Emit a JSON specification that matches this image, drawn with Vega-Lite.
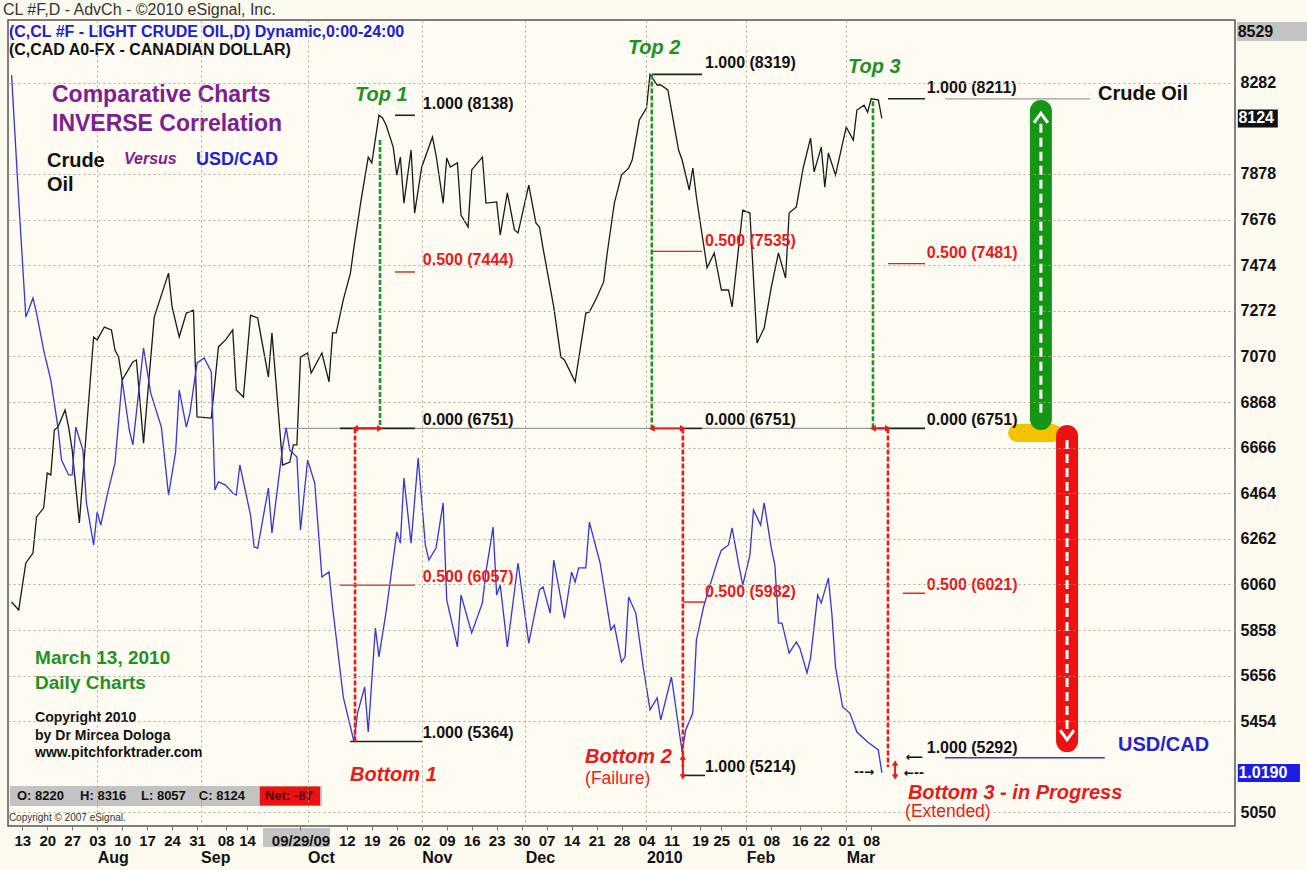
{
"$schema":"https://vega.github.io/schema/vega-lite/v6.json",
"width":1227,"height":806,
"autosize":{"type":"none"},
"padding":{"left":8,"top":20,"right":72,"bottom":44},
"background":"#fcf9ef",
"title":{"text":"CL #F,D - AdvCh - ©2010 eSignal, Inc.","anchor":"start","frame":"group","offset":2,"dx":-5,"font":"Liberation Sans","fontSize":16,"fontWeight":"normal","color":"#333"},
"config":{"view":{"stroke":"#555","strokeWidth":1.5,"fill":"#fdfbf2"},"text":{"font":"Liberation Sans"}},
"resolve":{"axis":{"x":"independent"}},
"layer":[
{"data":{"values":[
 {"a":"2010/06/18 13:00","b":"2010/07/08 05:00","y1":8551,"y2":8467},
 {"a":"2009/09/18 12:00","b":"2009/10/07 07:00","y1":4981,"y2":4897},
 {"a":"2009/07/09 13:00","b":"2009/10/05 00:00","y1":5167,"y2":5079}
 ],"format":{"parse":{"a":"date","b":"date"}}},
 "mark":{"type":"rect","color":"#c3c3c3"},
 "encoding":{"x":{"field":"a","type":"temporal","axis":null},"x2":{"field":"b"},"y":{"field":"y1","type":"quantitative"},"y2":{"field":"y2"}}},
{"data":{"values":[{"a":"2010/06/18 19:00","b":"2010/06/30 00:00","y1":8164,"y2":8084}],"format":{"parse":{"a":"date","b":"date"}}},
 "mark":{"type":"rect","color":"#111"},
 "encoding":{"x":{"field":"a","type":"temporal","axis":null},"x2":{"field":"b"},"y":{"field":"y1","type":"quantitative"},"y2":{"field":"y2"}}},
{"data":{"values":[{"a":"2010/06/18 19:00","b":"2010/07/06 05:00","y1":5265,"y2":5185}],"format":{"parse":{"a":"date","b":"date"}}},
 "mark":{"type":"rect","color":"#1c1ce6"},
 "encoding":{"x":{"field":"a","type":"temporal","axis":null},"x2":{"field":"b"},"y":{"field":"y1","type":"quantitative"},"y2":{"field":"y2"}}},
{"data":{"values":[{"a":"2009/09/17 14:00","b":"2009/10/04 12:00","y1":5165,"y2":5081}],"format":{"parse":{"a":"date","b":"date"}}},
 "mark":{"type":"rect","color":"#ee1111"},
 "encoding":{"x":{"field":"a","type":"temporal","axis":null},"x2":{"field":"b"},"y":{"field":"y1","type":"quantitative"},"y2":{"field":"y2"}}},
{"data":{"values":[
{"date":"2009/07/10","v":5982},{"date":"2009/07/12","v":5947},{"date":"2009/07/14","v":6155},{"date":"2009/07/16","v":6199},{"date":"2009/07/17","v":6359},{"date":"2009/07/19","v":6398},{"date":"2009/07/20","v":6553},{"date":"2009/07/21","v":6545},{"date":"2009/07/22","v":6744},{"date":"2009/07/23","v":6757},{"date":"2009/07/25","v":6833},{"date":"2009/07/26","v":6757},{"date":"2009/07/27","v":6655},{"date":"2009/07/29","v":6332},{"date":"2009/08/02","v":7156},{"date":"2009/08/03","v":7143},{"date":"2009/08/05","v":7200},{"date":"2009/08/07","v":7187},{"date":"2009/08/08","v":7098},{"date":"2009/08/09","v":7067},{"date":"2009/08/10","v":6965},{"date":"2009/08/13","v":7045},{"date":"2009/08/14","v":7054},{"date":"2009/08/16","v":6686},{"date":"2009/08/19","v":7244},{"date":"2009/08/23","v":7439},{"date":"2009/08/24","v":7289},{"date":"2009/08/26","v":7156},{"date":"2009/08/28","v":7262},{"date":"2009/08/30","v":7275},{"date":"2009/08/31","v":6802},{"date":"2009/09/04","v":6797},{"date":"2009/09/06","v":7112},{"date":"2009/09/08","v":7143},{"date":"2009/09/10","v":7187},{"date":"2009/09/11","v":6921},{"date":"2009/09/13","v":6890},{"date":"2009/09/15","v":7253},{"date":"2009/09/17","v":7240},{"date":"2009/09/20","v":6979},{"date":"2009/09/21","v":7174},{"date":"2009/09/24","v":6589},{"date":"2009/09/26","v":6602},{"date":"2009/09/27","v":6678},{"date":"2009/09/28","v":6678},{"date":"2009/09/29","v":7067},{"date":"2009/10/01","v":7085},{"date":"2009/10/02","v":6996},{"date":"2009/10/05","v":7085},{"date":"2009/10/07","v":6957},{"date":"2009/10/08","v":7174},{"date":"2009/10/09","v":7174},{"date":"2009/10/11","v":7320},{"date":"2009/10/13","v":7439},{"date":"2009/10/14","v":7555},{"date":"2009/10/16","v":7763},{"date":"2009/10/18","v":7953},{"date":"2009/10/19","v":7927},{"date":"2009/10/21","v":8138},{"date":"2009/10/22","v":8126},{"date":"2009/10/23","v":8095},{"date":"2009/10/25","v":7997},{"date":"2009/10/26","v":7873},{"date":"2009/10/27","v":7953},{"date":"2009/10/28","v":7749},{"date":"2009/10/30","v":7984},{"date":"2009/10/31","v":7705},{"date":"2009/11/02","v":7909},{"date":"2009/11/05","v":8042},{"date":"2009/11/06","v":7962},{"date":"2009/11/08","v":7749},{"date":"2009/11/09","v":7949},{"date":"2009/11/10","v":7909},{"date":"2009/11/12","v":7927},{"date":"2009/11/13","v":7696},{"date":"2009/11/15","v":7643},{"date":"2009/11/16","v":7896},{"date":"2009/11/19","v":7953},{"date":"2009/11/20","v":7749},{"date":"2009/11/23","v":7754},{"date":"2009/11/24","v":7608},{"date":"2009/11/26","v":7794},{"date":"2009/11/28","v":7630},{"date":"2009/11/29","v":7617},{"date":"2009/12/02","v":7829},{"date":"2009/12/04","v":7661},{"date":"2009/12/05","v":7643},{"date":"2009/12/06","v":7550},{"date":"2009/12/09","v":7289},{"date":"2009/12/11","v":7067},{"date":"2009/12/12","v":7054},{"date":"2009/12/15","v":6957},{"date":"2009/12/18","v":7262},{"date":"2009/12/19","v":7267},{"date":"2009/12/21","v":7329},{"date":"2009/12/23","v":7400},{"date":"2009/12/24","v":7528},{"date":"2009/12/26","v":7749},{"date":"2009/12/28","v":7873},{"date":"2009/12/30","v":7904},{"date":"2009/12/31","v":7940},{"date":"2010/01/02","v":8117},{"date":"2010/01/04","v":8170},{"date":"2010/01/05","v":8319},{"date":"2010/01/07","v":8272},{"date":"2010/01/08","v":8272},{"date":"2010/01/10","v":8250},{"date":"2010/01/13","v":7984},{"date":"2010/01/14","v":7940},{"date":"2010/01/16","v":7807},{"date":"2010/01/17","v":7904},{"date":"2010/01/18","v":7776},{"date":"2010/01/21","v":7462},{"date":"2010/01/23","v":7528},{"date":"2010/01/25","v":7364},{"date":"2010/01/27","v":7364},{"date":"2010/01/28","v":7289},{"date":"2010/01/31","v":7718},{"date":"2010/02/02","v":7705},{"date":"2010/02/04","v":7129},{"date":"2010/02/06","v":7196},{"date":"2010/02/08","v":7377},{"date":"2010/02/10","v":7528},{"date":"2010/02/12","v":7417},{"date":"2010/02/13","v":7705},{"date":"2010/02/15","v":7732},{"date":"2010/02/17","v":7909},{"date":"2010/02/19","v":8037},{"date":"2010/02/20","v":7887},{"date":"2010/02/22","v":7997},{"date":"2010/02/23","v":7820},{"date":"2010/02/24","v":7971},{"date":"2010/02/26","v":7873},{"date":"2010/03/01","v":8086},{"date":"2010/03/03","v":8028},{"date":"2010/03/04","v":8161},{"date":"2010/03/06","v":8183},{"date":"2010/03/07","v":8152},{"date":"2010/03/08","v":8211},{"date":"2010/03/10","v":8206},{"date":"2010/03/11","v":8124}
 ]},
 "mark":{"type":"line","color":"#1a1a1a","strokeWidth":1.3},
 "encoding":{
  "x":{"field":"date","type":"temporal","scale":{"domain":[{"year":2009,"month":7,"date":9},{"year":2010,"month":6,"date":18}],"nice":false},
   "axis":{"orient":"bottom","title":null,"grid":false,"domain":false,"ticks":true,"tickSize":4,"tickColor":"#777","labelPadding":3,"labelOverlap":false,"labelFlush":false,"labelFont":"Liberation Sans","labelFontSize":15,"labelFontWeight":"bold","labelColor":"#111","labelBaseline":"top","zindex":1,
    "values":[{"year":2009,"month":7,"date":13},{"year":2009,"month":7,"date":20},{"year":2009,"month":7,"date":27},{"year":2009,"month":8,"date":3},{"year":2009,"month":8,"date":10},{"year":2009,"month":8,"date":17},{"year":2009,"month":8,"date":24},{"year":2009,"month":8,"date":31},{"year":2009,"month":9,"date":8},{"year":2009,"month":9,"date":14},{"year":2009,"month":9,"date":29},{"year":2009,"month":10,"date":12},{"year":2009,"month":10,"date":19},{"year":2009,"month":10,"date":26},{"year":2009,"month":11,"date":2},{"year":2009,"month":11,"date":9},{"year":2009,"month":11,"date":16},{"year":2009,"month":11,"date":23},{"year":2009,"month":11,"date":30},{"year":2009,"month":12,"date":7},{"year":2009,"month":12,"date":14},{"year":2009,"month":12,"date":21},{"year":2009,"month":12,"date":28},{"year":2010,"month":1,"date":4},{"year":2010,"month":1,"date":11},{"year":2010,"month":1,"date":19},{"year":2010,"month":1,"date":25},{"year":2010,"month":2,"date":1},{"year":2010,"month":2,"date":8},{"year":2010,"month":2,"date":16},{"year":2010,"month":2,"date":22},{"year":2010,"month":3,"date":1},{"year":2010,"month":3,"date":8}],
    "labelExpr":"(month(datum.value)==8 && date(datum.value)==29) ? '09/29/09' : timeFormat(datum.value, '%d')"}},
  "y":{"field":"v","type":"quantitative","scale":{"domain":[4990,8560],"nice":false,"zero":false},
   "axis":{"orient":"right","title":null,"domain":false,"ticks":false,"labelPadding":5,"labelFont":"Liberation Sans","labelFontSize":16,"labelFontWeight":"bold","labelColor":"#111","labelAlign":"left","labelBaseline":"middle","labelOverlap":false,"labelFlush":false,"format":"d","zindex":1,
    "values":[5050,5454,5656,5858,6060,6262,6464,6666,6868,7070,7272,7474,7676,7878,8282],
    "grid":true,"gridColor":"#a8a28a","gridDash":[2,3],"gridWidth":1,"gridOpacity":0.9}}}},
{"data":{"values":[{"date":"2010/06/18 18:00","v":8507,"s":"8529"}]},
 "mark":{"type":"text","align":"left","baseline":"middle","font":"Liberation Sans","fontSize":16,"fontWeight":"bold","color":"#111"},
 "encoding":{"x":{"field":"date","type":"temporal","axis":null},"y":{"field":"v","type":"quantitative"},"text":{"field":"s"}}},
{"data":{"values":[{"date":"2010/06/18 23:00","v":8124,"s":"8124"},{"date":"2010/06/18 23:00","v":5225,"s":"1.0190"}]},
 "mark":{"type":"text","align":"left","baseline":"middle","font":"Liberation Sans","fontSize":16,"fontWeight":"bold","color":"white"},
 "encoding":{"x":{"field":"date","type":"temporal","axis":null},"y":{"field":"v","type":"quantitative"},"text":{"field":"s"}}},
{"data":{"values":[
 {"a":"2009/09/24 02:00","b":"2010/03/23 02:00","v":6751},
 {"a":"2010/03/28 17:00","b":"2010/05/08 07:00","v":8211}
 ],"format":{"parse":{"a":"date","b":"date"}}},
 "mark":{"type":"rule","color":"#9a9a9a","strokeWidth":1.2},
 "encoding":{"x":{"field":"a","type":"temporal","axis":null},"x2":{"field":"b"},"y":{"field":"v","type":"quantitative"}}},
{"data":{"values":[
{"date":"2009/07/10","v":8316},{"date":"2009/07/12","v":7763},{"date":"2009/07/14","v":7244},{"date":"2009/07/16","v":7329},{"date":"2009/07/17","v":7262},{"date":"2009/07/19","v":7098},{"date":"2009/07/21","v":6965},{"date":"2009/07/23","v":6757},{"date":"2009/07/24","v":6611},{"date":"2009/07/26","v":6545},{"date":"2009/07/27","v":6545},{"date":"2009/07/28","v":6757},{"date":"2009/07/30","v":6655},{"date":"2009/07/31","v":6421},{"date":"2009/08/02","v":6235},{"date":"2009/08/03","v":6381},{"date":"2009/08/04","v":6323},{"date":"2009/08/06","v":6469},{"date":"2009/08/08","v":6598},{"date":"2009/08/10","v":6965},{"date":"2009/08/12","v":6744},{"date":"2009/08/13","v":6678},{"date":"2009/08/16","v":7107},{"date":"2009/08/18","v":6908},{"date":"2009/08/21","v":6757},{"date":"2009/08/23","v":6456},{"date":"2009/08/25","v":6647},{"date":"2009/08/26","v":6921},{"date":"2009/08/28","v":6757},{"date":"2009/08/29","v":6819},{"date":"2009/08/31","v":7041},{"date":"2009/09/02","v":7063},{"date":"2009/09/04","v":7001},{"date":"2009/09/05","v":6478},{"date":"2009/09/06","v":6514},{"date":"2009/09/08","v":6500},{"date":"2009/09/10","v":6465},{"date":"2009/09/11","v":6456},{"date":"2009/09/12","v":6589},{"date":"2009/09/15","v":6367},{"date":"2009/09/16","v":6226},{"date":"2009/09/17","v":6221},{"date":"2009/09/20","v":6487},{"date":"2009/09/21","v":6288},{"date":"2009/09/24","v":6669},{"date":"2009/09/25","v":6753},{"date":"2009/09/26","v":6655},{"date":"2009/09/28","v":6624},{"date":"2009/09/29","v":6301},{"date":"2009/10/01","v":6611},{"date":"2009/10/03","v":6509},{"date":"2009/10/05","v":6093},{"date":"2009/10/07","v":6115},{"date":"2009/10/08","v":5960},{"date":"2009/10/11","v":5561},{"date":"2009/10/14","v":5364},{"date":"2009/10/15","v":5490},{"date":"2009/10/17","v":5606},{"date":"2009/10/18","v":5406},{"date":"2009/10/20","v":5867},{"date":"2009/10/21","v":5739},{"date":"2009/10/23","v":5938},{"date":"2009/10/26","v":6292},{"date":"2009/10/27","v":6243},{"date":"2009/10/28","v":6531},{"date":"2009/10/30","v":6243},{"date":"2009/11/01","v":6620},{"date":"2009/11/03","v":6235},{"date":"2009/11/04","v":6168},{"date":"2009/11/06","v":6221},{"date":"2009/11/08","v":6421},{"date":"2009/11/09","v":5991},{"date":"2009/11/12","v":5783},{"date":"2009/11/13","v":6013},{"date":"2009/11/16","v":5845},{"date":"2009/11/19","v":5978},{"date":"2009/11/20","v":6115},{"date":"2009/11/22","v":6314},{"date":"2009/11/23","v":6013},{"date":"2009/11/24","v":6057},{"date":"2009/11/26","v":5783},{"date":"2009/11/29","v":6155},{"date":"2009/12/02","v":5800},{"date":"2009/12/05","v":6035},{"date":"2009/12/06","v":6049},{"date":"2009/12/08","v":5933},{"date":"2009/12/09","v":6168},{"date":"2009/12/12","v":5911},{"date":"2009/12/14","v":6115},{"date":"2009/12/15","v":6071},{"date":"2009/12/16","v":6133},{"date":"2009/12/18","v":6133},{"date":"2009/12/19","v":6336},{"date":"2009/12/22","v":6155},{"date":"2009/12/25","v":5858},{"date":"2009/12/26","v":5880},{"date":"2009/12/28","v":5716},{"date":"2009/12/29","v":5739},{"date":"2009/12/30","v":6004},{"date":"2010/01/01","v":5933},{"date":"2010/01/03","v":5703},{"date":"2010/01/05","v":5504},{"date":"2010/01/07","v":5557},{"date":"2010/01/08","v":5460},{"date":"2010/01/11","v":5650},{"date":"2010/01/14","v":5318},{"date":"2010/01/15","v":5415},{"date":"2010/01/17","v":5490},{"date":"2010/01/18","v":5814},{"date":"2010/01/20","v":5960},{"date":"2010/01/22","v":6066},{"date":"2010/01/24","v":6168},{"date":"2010/01/25","v":6212},{"date":"2010/01/27","v":6235},{"date":"2010/01/28","v":6310},{"date":"2010/01/30","v":6137},{"date":"2010/01/31","v":6057},{"date":"2010/02/02","v":6190},{"date":"2010/02/03","v":6390},{"date":"2010/02/05","v":6323},{"date":"2010/02/06","v":6421},{"date":"2010/02/08","v":6221},{"date":"2010/02/09","v":6146},{"date":"2010/02/10","v":5889},{"date":"2010/02/11","v":5889},{"date":"2010/02/13","v":5756},{"date":"2010/02/15","v":5805},{"date":"2010/02/16","v":5778},{"date":"2010/02/18","v":5668},{"date":"2010/02/19","v":5734},{"date":"2010/02/21","v":6013},{"date":"2010/02/22","v":5978},{"date":"2010/02/24","v":6088},{"date":"2010/02/25","v":5925},{"date":"2010/02/26","v":5694},{"date":"2010/02/28","v":5517},{"date":"2010/03/02","v":5490},{"date":"2010/03/04","v":5406},{"date":"2010/03/07","v":5362},{"date":"2010/03/10","v":5327},{"date":"2010/03/11","v":5225}
 ]},
 "mark":{"type":"line","color":"#3535d0","strokeWidth":1.3},
 "encoding":{
  "x":{"field":"date","type":"temporal",
   "axis":{"orient":"bottom","title":null,"domain":false,"ticks":false,"labelPadding":23,"labelOverlap":false,"labelFlush":false,"labelFont":"Liberation Sans","labelFontSize":16,"labelFontWeight":"bold","labelColor":"#111","labelAlign":"left","labelBaseline":"top","zindex":1,
    "grid":true,"gridColor":"#a8a28a","gridDash":[2,3],"gridWidth":1,"gridOpacity":0.9,
    "values":[{"year":2009,"month":8,"date":3},{"year":2009,"month":9,"date":1},{"year":2009,"month":10,"date":1},{"year":2009,"month":11,"date":2},{"year":2009,"month":12,"date":1},{"year":2010,"month":1,"date":4},{"year":2010,"month":2,"date":1},{"year":2010,"month":3,"date":1}],
    "labelExpr":"month(datum.value)==0 ? '2010' : timeFormat(datum.value, '%b')"}},
  "y":{"field":"v","type":"quantitative"}}},
{"data":{"values":[
 {"a":"2009/10/25 12:00","b":"2009/10/31 02:00","v":8138},
 {"a":"2009/10/10 02:00","b":"2009/10/31 02:00","v":6751},
 {"a":"2009/10/12 22:00","b":"2009/11/02 02:00","v":5364},
 {"a":"2010/01/05 12:00","b":"2010/01/19 14:00","v":8319},
 {"a":"2010/01/14 05:00","b":"2010/01/19 14:00","v":6751},
 {"a":"2010/01/14 05:00","b":"2010/01/20 10:00","v":5214},
 {"a":"2010/03/12 17:00","b":"2010/03/23 02:00","v":8211},
 {"a":"2010/03/09 22:00","b":"2010/03/23 02:00","v":6751}
 ],"format":{"parse":{"a":"date","b":"date"}}},
 "mark":{"type":"rule","color":"#222","strokeWidth":1.6},
 "encoding":{"x":{"field":"a","type":"temporal","axis":null},"x2":{"field":"b"},"y":{"field":"v","type":"quantitative"}}},
{"data":{"values":[
 {"a":"2009/10/25 12:00","b":"2009/10/31 02:00","v":7444},
 {"a":"2009/10/10 02:00","b":"2009/10/31 02:00","v":6057},
 {"a":"2010/01/05 12:00","b":"2010/01/19 14:00","v":7535},
 {"a":"2010/01/14 05:00","b":"2010/01/20 10:00","v":5982},
 {"a":"2010/03/12 17:00","b":"2010/03/23 02:00","v":7481},
 {"a":"2010/03/16 22:00","b":"2010/03/23 02:00","v":6021}
 ],"format":{"parse":{"a":"date","b":"date"}}},
 "mark":{"type":"rule","color":"#e51c1c","strokeWidth":1.4},
 "encoding":{"x":{"field":"a","type":"temporal","axis":null},"x2":{"field":"b"},"y":{"field":"v","type":"quantitative"}}},
{"data":{"values":[{"a":"2010/03/28 17:00","b":"2010/05/12 12:00","v":5292}],"format":{"parse":{"a":"date","b":"date"}}},
 "mark":{"type":"rule","color":"#3535d0","strokeWidth":1.6},
 "encoding":{"x":{"field":"a","type":"temporal","axis":null},"x2":{"field":"b"},"y":{"field":"v","type":"quantitative"}}},
{"data":{"values":[
 {"t":"2009/10/21 07:00","v1":8028,"v2":6751},
 {"t":"2010/01/05 12:00","v1":8319,"v2":6751},
 {"t":"2010/03/08 12:00","v1":8200,"v2":6751}
 ],"format":{"parse":{"t":"date"}}},
 "mark":{"type":"rule","color":"#2a8f2a","strokeWidth":2.6,"strokeDash":[5,2]},
 "encoding":{"x":{"field":"t","type":"temporal","axis":null},"y":{"field":"v1","type":"quantitative"},"y2":{"field":"v2"}}},
{"data":{"values":[
 {"t":"2009/10/14 07:00","v1":6751,"v2":5364},
 {"t":"2010/01/14 05:00","v1":6751,"v2":5250},
 {"t":"2010/03/12 17:00","v1":6751,"v2":5250}
 ],"format":{"parse":{"t":"date"}}},
 "mark":{"type":"rule","color":"#e51c1c","strokeWidth":2.6,"strokeDash":[5,2]},
 "encoding":{"x":{"field":"t","type":"temporal","axis":null},"y":{"field":"v1","type":"quantitative"},"y2":{"field":"v2"}}},
{"data":{"values":[
 {"a":"2009/10/14 07:00","b":"2009/10/21 07:00","v":6751},
 {"a":"2010/01/05 12:00","b":"2010/01/14 05:00","v":6751},
 {"a":"2010/03/08 12:00","b":"2010/03/12 17:00","v":6751}
 ],"format":{"parse":{"a":"date","b":"date"}}},
 "layer":[
  {"mark":{"type":"rule","color":"#e51c1c","strokeWidth":2},
   "encoding":{"x":{"field":"a","type":"temporal","axis":null},"x2":{"field":"b"},"y":{"field":"v","type":"quantitative"}}},
  {"mark":{"type":"point","shape":"triangle-left","filled":true,"color":"#e51c1c","size":45,"opacity":1},
   "encoding":{"x":{"field":"a","type":"temporal","axis":null},"y":{"field":"v","type":"quantitative"}}},
  {"mark":{"type":"point","shape":"triangle-right","filled":true,"color":"#e51c1c","size":45,"opacity":1},
   "encoding":{"x":{"field":"b","type":"temporal","axis":null},"y":{"field":"v","type":"quantitative"}}}
 ]},
{"data":{"values":[
 {"t":"2010/01/14 05:00","v1":5296,"v2":5207},
 {"t":"2010/03/14 17:00","v1":5269,"v2":5207}
 ],"format":{"parse":{"t":"date"}}},
 "layer":[
  {"mark":{"type":"rule","color":"#e51c1c","strokeWidth":2},
   "encoding":{"x":{"field":"t","type":"temporal","axis":null},"y":{"field":"v1","type":"quantitative"},"y2":{"field":"v2"}}},
  {"mark":{"type":"point","shape":"triangle-up","filled":true,"color":"#e51c1c","size":40,"opacity":1},
   "encoding":{"x":{"field":"t","type":"temporal","axis":null},"y":{"field":"v1","type":"quantitative"}}},
  {"mark":{"type":"point","shape":"triangle-down","filled":true,"color":"#e51c1c","size":40,"opacity":1},
   "encoding":{"x":{"field":"t","type":"temporal","axis":null},"y":{"field":"v2","type":"quantitative"}}}
 ]},
{"data":{"values":[{"a":"2010/04/17 22:00","b":"2010/04/27 19:00","v":6731}],"format":{"parse":{"a":"date","b":"date"}}},
 "mark":{"type":"rule","color":"#f3c300","strokeWidth":18,"strokeCap":"round"},
 "encoding":{"x":{"field":"a","type":"temporal","axis":null},"x2":{"field":"b"},"y":{"field":"v","type":"quantitative"}}},
{"data":{"values":[{"t":"2010/04/24 14:00","v1":8157,"v2":6793,"w1":8100,"w2":6800,"c":8126}],"format":{"parse":{"t":"date"}}},
 "layer":[
  {"mark":{"type":"rule","color":"#149614","strokeWidth":22,"strokeCap":"round"},
   "encoding":{"x":{"field":"t","type":"temporal","axis":null},"y":{"field":"v1","type":"quantitative"},"y2":{"field":"v2"}}},
  {"mark":{"type":"rule","color":"white","strokeWidth":3,"strokeDash":[9,5]},
   "encoding":{"x":{"field":"t","type":"temporal","axis":null},"y":{"field":"w1","type":"quantitative"},"y2":{"field":"w2"}}},
  {"mark":{"type":"point","shape":"M-0.8,0.55L0,-0.55L0.8,0.55","filled":false,"stroke":"white","strokeWidth":3,"size":300,"opacity":1},
   "encoding":{"x":{"field":"t","type":"temporal","axis":null},"y":{"field":"c","type":"quantitative"}}}
 ]},
{"data":{"values":[{"t":"2010/05/01 22:00","v1":6717,"v2":5366,"w1":6700,"w2":5410,"c":5393}],"format":{"parse":{"t":"date"}}},
 "layer":[
  {"mark":{"type":"rule","color":"#ee1111","strokeWidth":22,"strokeCap":"round"},
   "encoding":{"x":{"field":"t","type":"temporal","axis":null},"y":{"field":"v1","type":"quantitative"},"y2":{"field":"v2"}}},
  {"mark":{"type":"rule","color":"white","strokeWidth":3,"strokeDash":[9,5]},
   "encoding":{"x":{"field":"t","type":"temporal","axis":null},"y":{"field":"w1","type":"quantitative"},"y2":{"field":"w2"}}},
  {"mark":{"type":"point","shape":"M-0.8,-0.55L0,0.55L0.8,-0.55","filled":false,"stroke":"white","strokeWidth":3,"size":300,"opacity":1},
   "encoding":{"x":{"field":"t","type":"temporal","axis":null},"y":{"field":"c","type":"quantitative"}}}
 ]},
{"data":{"values":[{"date":"2009/07/21 08:00","v":8228,"s":"Comparative Charts"},{"date":"2009/07/21 08:00","v":8099,"s":"INVERSE Correlation"}]},
 "mark":{"type":"text","align":"left","baseline":"middle","font":"Liberation Sans","fontSize":23,"fontWeight":"bold","color":"#7d2090"},
 "encoding":{"x":{"field":"date","type":"temporal","axis":null},"y":{"field":"v","type":"quantitative"},"text":{"field":"s"}}},
{"data":{"values":[{"date":"2009/07/19 22:00","v":7935,"s":"Crude"},{"date":"2009/07/19 22:00","v":7829,"s":"Oil"},{"date":"2010/05/10 14:00","v":8232,"s":"Crude Oil"}]},
 "mark":{"type":"text","align":"left","baseline":"middle","font":"Liberation Sans","fontSize":20,"fontWeight":"bold","color":"#111"},
 "encoding":{"x":{"field":"date","type":"temporal","axis":null},"y":{"field":"v","type":"quantitative"},"text":{"field":"s"}}},
{"data":{"values":[{"date":"2009/08/10 12:00","v":7944,"s":"Versus"}]},
 "mark":{"type":"text","align":"left","baseline":"middle","font":"Liberation Sans","fontSize":16,"fontWeight":"bold","fontStyle":"italic","color":"#7d2090"},
 "encoding":{"x":{"field":"date","type":"temporal","axis":null},"y":{"field":"v","type":"quantitative"},"text":{"field":"s"}}},
{"data":{"values":[{"date":"2009/08/30 17:00","v":7940,"s":"USD/CAD"}]},
 "mark":{"type":"text","align":"left","baseline":"middle","font":"Liberation Sans","fontSize":18,"fontWeight":"bold","color":"#2323cc"},
 "encoding":{"x":{"field":"date","type":"temporal","axis":null},"y":{"field":"v","type":"quantitative"},"text":{"field":"s"}}},
{"data":{"values":[{"date":"2010/05/16 05:00","v":5349,"s":"USD/CAD"}]},
 "mark":{"type":"text","align":"left","baseline":"middle","font":"Liberation Sans","fontSize":20,"fontWeight":"bold","color":"#2323cc"},
 "encoding":{"x":{"field":"date","type":"temporal","axis":null},"y":{"field":"v","type":"quantitative"},"text":{"field":"s"}}},
{"data":{"values":[{"date":"2009/07/16 14:00","v":5734,"s":"March 13, 2010"},{"date":"2009/07/16 14:00","v":5623,"s":"Daily Charts"}]},
 "mark":{"type":"text","align":"left","baseline":"middle","font":"Liberation Sans","fontSize":19,"fontWeight":"bold","color":"#239023"},
 "encoding":{"x":{"field":"date","type":"temporal","axis":null},"y":{"field":"v","type":"quantitative"},"text":{"field":"s"}}},
{"data":{"values":[{"date":"2009/07/16 14:00","v":5468,"s":"Copyright 2010"},{"date":"2009/07/16 14:00","v":5389,"s":"by Dr Mircea Dologa"},{"date":"2009/07/16 14:00","v":5313,"s":"www.pitchforktrader.com"}]},
 "mark":{"type":"text","align":"left","baseline":"middle","font":"Liberation Sans","fontSize":14,"fontWeight":"bold","color":"#111"},
 "encoding":{"x":{"field":"date","type":"temporal","axis":null},"y":{"field":"v","type":"quantitative"},"text":{"field":"s"}}},
{"data":{"values":[{"date":"2009/07/11 12:00","v":5123,"s":"O: 8220"},{"date":"2009/07/29 05:00","v":5123,"s":"H: 8316"},{"date":"2009/08/15 07:00","v":5123,"s":"L: 8057"},{"date":"2009/08/31 12:00","v":5123,"s":"C: 8124"}]},
 "mark":{"type":"text","align":"left","baseline":"middle","font":"Liberation Sans","fontSize":13,"fontWeight":"bold","color":"#111"},
 "encoding":{"x":{"field":"date","type":"temporal","axis":null},"y":{"field":"v","type":"quantitative"},"text":{"field":"s"}}},
{"data":{"values":[{"date":"2009/09/19 01:00","v":5123,"s":"Net: -87"}]},
 "mark":{"type":"text","align":"left","baseline":"middle","font":"Liberation Sans","fontSize":13,"fontWeight":"bold","color":"#5a0000"},
 "encoding":{"x":{"field":"date","type":"temporal","axis":null},"y":{"field":"v","type":"quantitative"},"text":{"field":"s"}}},
{"data":{"values":[{"date":"2009/07/09 06:00","v":5025,"s":"Copyright © 2007 eSignal."}]},
 "mark":{"type":"text","align":"left","baseline":"middle","font":"Liberation Sans","fontSize":10,"color":"#333"},
 "encoding":{"x":{"field":"date","type":"temporal","axis":null},"y":{"field":"v","type":"quantitative"},"text":{"field":"s"}}},
{"data":{"values":[{"date":"2009/07/09 06:00","v":8507,"s":"(C,CL #F - LIGHT CRUDE OIL,D) Dynamic,0:00-24:00"}]},
 "mark":{"type":"text","align":"left","baseline":"middle","font":"Liberation Sans","fontSize":16,"fontWeight":"bold","color":"#2020cc"},
 "encoding":{"x":{"field":"date","type":"temporal","axis":null},"y":{"field":"v","type":"quantitative"},"text":{"field":"s"}}},
{"data":{"values":[{"date":"2009/07/09 06:00","v":8427,"s":"(C,CAD A0-FX - CANADIAN DOLLAR)"}]},
 "mark":{"type":"text","align":"left","baseline":"middle","font":"Liberation Sans","fontSize":16,"fontWeight":"bold","color":"#111"},
 "encoding":{"x":{"field":"date","type":"temporal","axis":null},"y":{"field":"v","type":"quantitative"},"text":{"field":"s"}}},
{"data":{"values":[
 {"date":"2009/11/02 07:00","v":8188,"s":"1.000 (8138)"},{"date":"2009/11/02 07:00","v":6788,"s":"0.000 (6751)"},{"date":"2009/11/02 07:00","v":5402,"s":"1.000 (5364)"},
 {"date":"2010/01/20 10:00","v":8370,"s":"1.000 (8319)"},{"date":"2010/01/20 10:00","v":6788,"s":"0.000 (6751)"},{"date":"2010/01/20 10:00","v":5251,"s":"1.000 (5214)"},
 {"date":"2010/03/23 14:00","v":8259,"s":"1.000 (8211)"},{"date":"2010/03/23 14:00","v":6788,"s":"0.000 (6751)"},{"date":"2010/03/23 14:00","v":5335,"s":"1.000 (5292)"}]},
 "mark":{"type":"text","align":"left","baseline":"middle","font":"Liberation Sans","fontSize":16,"fontWeight":"bold","color":"#111"},
 "encoding":{"x":{"field":"date","type":"temporal","axis":null},"y":{"field":"v","type":"quantitative"},"text":{"field":"s"}}},
{"data":{"values":[
 {"date":"2009/11/02 07:00","v":7497,"s":"0.500 (7444)"},{"date":"2009/11/02 07:00","v":6093,"s":"0.500 (6057)"},
 {"date":"2010/01/20 10:00","v":7581,"s":"0.500 (7535)"},{"date":"2010/01/20 10:00","v":6026,"s":"0.500 (5982)"},
 {"date":"2010/03/23 14:00","v":7528,"s":"0.500 (7481)"},{"date":"2010/03/23 14:00","v":6057,"s":"0.500 (6021)"}]},
 "mark":{"type":"text","align":"left","baseline":"middle","font":"Liberation Sans","fontSize":16,"fontWeight":"bold","color":"#e51c1c"},
 "encoding":{"x":{"field":"date","type":"temporal","axis":null},"y":{"field":"v","type":"quantitative"},"text":{"field":"s"}}},
{"data":{"values":[{"date":"2009/10/14 07:00","v":8228,"s":"Top 1"},{"date":"2009/12/29 19:00","v":8436,"s":"Top 2"},{"date":"2010/03/01 12:00","v":8352,"s":"Top 3"}]},
 "mark":{"type":"text","align":"left","baseline":"middle","font":"Liberation Sans","fontSize":20,"fontWeight":"bold","fontStyle":"italic","color":"#239023"},
 "encoding":{"x":{"field":"date","type":"temporal","axis":null},"y":{"field":"v","type":"quantitative"},"text":{"field":"s"}}},
{"data":{"values":[{"date":"2009/10/12 22:00","v":5216,"s":"Bottom 1"},{"date":"2009/12/17 19:00","v":5296,"s":"Bottom 2"},{"date":"2010/03/18 07:00","v":5137,"s":"Bottom 3 - in Progress"}]},
 "mark":{"type":"text","align":"left","baseline":"middle","font":"Liberation Sans","fontSize":20,"fontWeight":"bold","fontStyle":"italic","color":"#e51c1c"},
 "encoding":{"x":{"field":"date","type":"temporal","axis":null},"y":{"field":"v","type":"quantitative"},"text":{"field":"s"}}},
{"data":{"values":[{"date":"2009/12/17 19:00","v":5198,"s":"(Failure)"},{"date":"2010/03/17 12:00","v":5050,"s":"(Extended)"}]},
 "mark":{"type":"text","align":"left","baseline":"middle","font":"Liberation Sans","fontSize":17.5,"color":"#e51c1c"},
 "encoding":{"x":{"field":"date","type":"temporal","axis":null},"y":{"field":"v","type":"quantitative"},"text":{"field":"s"}}},
{"data":{"values":[{"date":"2010/03/20 00:00","v":5294,"s":"⟵"},{"date":"2010/03/20 00:00","v":5225,"s":"←--"},{"date":"2010/03/06 00:00","v":5228,"s":"--→"}]},
 "mark":{"type":"text","align":"center","baseline":"middle","font":"DejaVu Sans","fontSize":12,"fontWeight":"bold","color":"#111"},
 "encoding":{"x":{"field":"date","type":"temporal","axis":null},"y":{"field":"v","type":"quantitative"},"text":{"field":"s"}}}
]
}
